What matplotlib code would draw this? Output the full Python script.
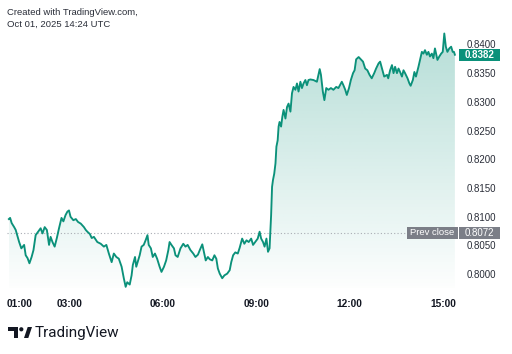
import numpy as np
import matplotlib.pyplot as plt
import matplotlib.transforms as mtransforms
from matplotlib.patches import Rectangle, Polygon, Circle
from matplotlib.colors import to_rgb

# ==== data (hours of the day, local time) ====
hours = [1.06, 1.10, 1.15, 1.23, 1.28, 1.39, 1.46, 1.55, 1.60, 1.66, 1.72, 1.79, 1.85, 1.92, 2.00,
         2.08, 2.14, 2.21, 2.28, 2.35, 2.40, 2.46, 2.53, 2.60, 2.67, 2.75, 2.81, 2.88, 2.94, 2.99,
         3.04, 3.13, 3.21, 3.28, 3.37, 3.47, 3.53, 3.58, 3.66, 3.72, 3.79, 3.90, 4.01, 4.11, 4.19,
         4.27, 4.36, 4.43, 4.51, 4.59, 4.68, 4.75, 4.81, 4.86, 4.94, 5.00, 5.04, 5.11, 5.15, 5.21,
         5.26, 5.32, 5.39, 5.45, 5.51, 5.55, 5.62, 5.68, 5.75, 5.82, 5.90, 5.96, 6.04, 6.11, 6.18,
         6.22, 6.28, 6.36, 6.41, 6.48, 6.57, 6.66, 6.73, 6.80, 6.89, 6.98, 7.05, 7.13, 7.19, 7.27,
         7.32, 7.38, 7.45, 7.51, 7.59, 7.66, 7.72, 7.77, 7.83, 7.91, 7.98, 8.07, 8.15, 8.20, 8.26,
         8.33, 8.41, 8.47, 8.55, 8.62, 8.69, 8.76, 8.84, 8.90, 8.97, 9.05, 9.11, 9.16, 9.22, 9.27,
         9.33, 9.38, 9.43, 9.48, 9.51, 9.54, 9.58, 9.62, 9.65, 9.69, 9.72, 9.75, 9.80, 9.84, 9.88,
         9.94, 9.99, 10.04, 10.10, 10.15, 10.20, 10.26, 10.31, 10.36, 10.42, 10.47, 10.52, 10.58, 10.63, 10.68,
         10.74, 10.84, 10.95, 11.04, 11.08, 11.14, 11.19, 11.25, 11.32, 11.40, 11.48, 11.57, 11.64, 11.75, 11.80,
         11.86, 11.91, 11.98, 12.04, 12.11, 12.16, 12.21, 12.29, 12.36, 12.43, 12.50, 12.57, 12.64, 12.71, 12.79,
         12.85, 12.93, 12.98, 13.04, 13.11, 13.20, 13.24, 13.30, 13.36, 13.41, 13.46, 13.52, 13.57, 13.62, 13.68,
         13.73, 13.78, 13.86, 13.92, 13.96, 14.03, 14.08, 14.13, 14.21, 14.26, 14.32, 14.37, 14.42, 14.48, 14.53,
         14.58, 14.64, 14.69, 14.74, 14.82, 14.88, 14.94, 14.99, 15.04, 15.09, 15.14, 15.20, 15.26, 15.31, 15.35,
         15.38]
prices = [0.8096, 0.8098, 0.8089, 0.8082, 0.8077, 0.8056, 0.8045, 0.8051, 0.8033, 0.8028, 0.8019, 0.8030, 0.8042, 0.8068, 0.8074,
          0.8080, 0.8071, 0.8082, 0.8077, 0.8051, 0.8065, 0.8056, 0.8048, 0.8063, 0.8080, 0.8098, 0.8092, 0.8103, 0.8109, 0.8111,
          0.8100, 0.8094, 0.8096, 0.8091, 0.8088, 0.8082, 0.8077, 0.8074, 0.8070, 0.8063, 0.8065, 0.8056, 0.8053, 0.8048, 0.8051,
          0.8036, 0.8021, 0.8036, 0.8030, 0.8027, 0.8013, 0.7993, 0.7978, 0.7986, 0.7982, 0.7998, 0.8016, 0.8030, 0.8013, 0.8024,
          0.8033, 0.8048, 0.8051, 0.8059, 0.8068, 0.8051, 0.8045, 0.8030, 0.8036, 0.8027, 0.8013, 0.8004, 0.8013, 0.8024, 0.8042,
          0.8056, 0.8051, 0.8045, 0.8033, 0.8030, 0.8045, 0.8053, 0.8048, 0.8051, 0.8042, 0.8036, 0.8030, 0.8034, 0.8042, 0.8052,
          0.8039, 0.8024, 0.8030, 0.8026, 0.8024, 0.8033, 0.8027, 0.8010, 0.8001, 0.7993, 0.7998, 0.8001, 0.8007, 0.8021, 0.8033,
          0.8038, 0.8036, 0.8046, 0.8062, 0.8053, 0.8059, 0.8056, 0.8062, 0.8051, 0.8056, 0.8062, 0.8074, 0.8062, 0.8056, 0.8048,
          0.8062, 0.8039, 0.8045, 0.8103, 0.8152, 0.8164, 0.8175, 0.8193, 0.8222, 0.8233, 0.8257, 0.8265, 0.8257, 0.8274, 0.8286,
          0.8271, 0.8291, 0.8297, 0.8283, 0.8315, 0.8326, 0.8321, 0.8332, 0.8318, 0.8335, 0.8324, 0.8332, 0.8338, 0.8329, 0.8338,
          0.8339, 0.8338, 0.8335, 0.8357, 0.8347, 0.8318, 0.8303, 0.8324, 0.8321, 0.8324, 0.8321, 0.8326, 0.8324, 0.8335, 0.8329,
          0.8321, 0.8312, 0.8324, 0.8338, 0.8350, 0.8355, 0.8374, 0.8378, 0.8374, 0.8370, 0.8358, 0.8355, 0.8347, 0.8341, 0.8350,
          0.8358, 0.8367, 0.8370, 0.8358, 0.8344, 0.8347, 0.8341, 0.8355, 0.8364, 0.8350, 0.8361, 0.8350, 0.8358, 0.8352, 0.8344,
          0.8355, 0.8350, 0.8341, 0.8332, 0.8328, 0.8338, 0.8352, 0.8344, 0.8361, 0.8373, 0.8387, 0.8384, 0.8390, 0.8382, 0.8387,
          0.8379, 0.8384, 0.8376, 0.8393, 0.8373, 0.8379, 0.8384, 0.8387, 0.8419, 0.8396, 0.8387, 0.8393, 0.8396, 0.8387, 0.8387,
          0.8382]

prev_close = 0.8072
last_price = 0.8382
y_ticks = [0.8000, 0.8050, 0.8100, 0.8150, 0.8200, 0.8250, 0.8300, 0.8350, 0.8400]
x_ticks = [1, 3, 6, 9, 12, 15]
x_labels = ['01:00', '03:00', '06:00', '09:00', '12:00', '15:00']

GREEN = '#0b917a'
GRAY_TXT = '#2a2e39'
W, H = 512, 354

fig = plt.figure(figsize=(W / 100, H / 100), dpi=100)
fig.patch.set_facecolor('white')
ax = fig.add_axes([7 / W, 1 - 288 / H, 451 / W, 266 / H])

ymin, ymax = 0.7976, 0.8439
xmin, xmax = 1.0, 15.48

# gradient under the line
grad = np.zeros((256, 1, 4))
grad[:, :, :3] = to_rgb(GREEN)
grad[:, 0, 3] = np.linspace(0.30, 0.01, 256)
im = ax.imshow(grad, extent=[hours[0], hours[-1], ymin, max(prices)], aspect='auto',
               origin='upper', zorder=1, interpolation='bilinear')
verts = [(hours[0], ymin)] + list(zip(hours, prices)) + [(hours[-1], ymin)]
poly = Polygon(verts, closed=True, facecolor='none', edgecolor='none')
ax.add_patch(poly)
im.set_clip_path(poly)

ax.plot(hours, prices, color=GREEN, lw=1.35, zorder=3, solid_joinstyle='round')
ax.axhline(prev_close, color='#a9acb4', ls=(0, (1, 2)), lw=0.8, zorder=2)

ax.set_xlim(xmin, xmax)
ax.set_ylim(ymin, ymax)
for s in ax.spines.values():
    s.set_visible(False)

ax.yaxis.tick_right()
ax.set_yticks(y_ticks)
ax.set_yticklabels([f'{v:.4f}' for v in y_ticks])
ax.tick_params(axis='y', length=0, pad=6, labelsize=7, labelcolor=GRAY_TXT)
for t in ax.get_yticklabels():
    t.set_fontfamily('Liberation Sans')

ax.set_xticks(x_ticks)
ax.set_xticklabels(x_labels)
ax.tick_params(axis='x', length=0, pad=8, labelsize=7.3, labelcolor='#131722')
for t in ax.get_xticklabels():
    t.set_fontfamily('Liberation Sans')
    t.set_fontweight('bold')
ax.get_xticklabels()[0].set_horizontalalignment('left')

# price labels on the right
tr = mtransforms.blended_transform_factory(fig.transFigure, ax.transData)
bh = 12 / 5740
fig.patches.append(Rectangle((459 / W, last_price - bh / 2), 41 / W, bh, transform=tr,
                             facecolor=GREEN, edgecolor='none', zorder=5))
fig.text(479.5 / W, last_price, f'{last_price:.4f}', transform=tr, ha='center', va='center',
         fontsize=7, color='white', fontweight='bold', family='Liberation Sans', zorder=6)

fig.patches.append(Rectangle((407 / W, prev_close - bh / 2), 93 / W, bh, transform=tr,
                             facecolor='#7b7e87', edgecolor='none', zorder=5))
fig.patches.append(Rectangle((458 / W, prev_close - bh / 2), 1 / W, bh, transform=tr,
                             facecolor='white', edgecolor='none', zorder=6))
fig.text(432.5 / W, prev_close, 'Prev close', transform=tr, ha='center', va='center',
         fontsize=6.8, color='white', family='Liberation Sans', zorder=6)
fig.text(479.5 / W, prev_close, f'{prev_close:.4f}', transform=tr, ha='center', va='center',
         fontsize=7, color='white', family='Liberation Sans', zorder=6)

# header
fig.text(7 / W, 1 - 12.5 / H, 'Created with TradingView.com,', ha='left', va='center',
         fontsize=6.8, color=GRAY_TXT, family='Liberation Sans')
fig.text(7 / W, 1 - 24.5 / H, 'Oct 01, 2025 14:24 UTC', ha='left', va='center',
         fontsize=6.8, color=GRAY_TXT, family='Liberation Sans')

# footer logo
px = mtransforms.Affine2D().scale(1 / W, -1 / H).translate(0, 1) + fig.transFigure
fig.patches.append(Polygon([(8, 327), (18, 327), (18, 338), (14, 338), (14, 331), (8, 331)],
                           closed=True, transform=px, facecolor='#131722', edgecolor='none'))
fig.patches.append(Circle((21.3, 329.3), 2.1, transform=px, facecolor='#131722', edgecolor='none'))
fig.patches.append(Polygon([(24, 338), (28.3, 338), (32, 327), (27.7, 327)],
                           closed=True, transform=px, facecolor='#131722', edgecolor='none'))
fig.text(35 / W, 1 - 332.5 / H, 'TradingView', ha='left', va='center', fontsize=11,
         color='#131722', family='Roboto')

fig.savefig('out.png', dpi=100, facecolor='white')
